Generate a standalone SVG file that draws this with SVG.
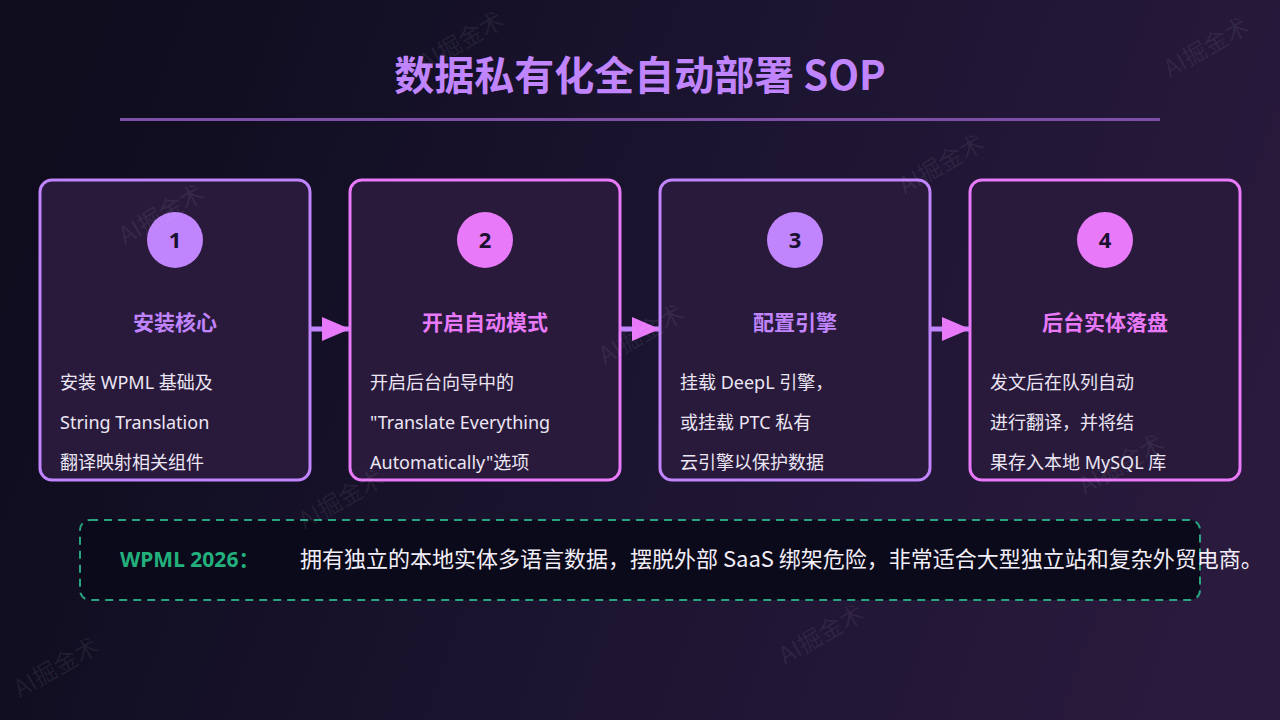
<svg xmlns="http://www.w3.org/2000/svg" width="1280" height="720" viewBox="0 0 1280 720">
<defs>
<linearGradient id="bg" x1="0" y1="0.4" x2="1" y2="0.6">
<stop offset="0" stop-color="#0e0c1d"/>
<stop offset="0.5" stop-color="#1b1430"/>
<stop offset="1" stop-color="#2a1a3d"/>
</linearGradient>
<marker id="head" viewBox="0 0 28 24" refX="28" refY="12" markerWidth="28" markerHeight="24" markerUnits="userSpaceOnUse" orient="auto">
<path d="M0,0 L28,12 L0,24 Z" fill="#e879f9"/>
</marker>
<style>
.wm{font-family:"Noto Sans CJK SC","Noto Sans",sans-serif;font-size:24px;fill:#ffffff;fill-opacity:0.07}
.card{fill:#291a3b;stroke-width:3}
.pur{stroke:#c084fc}
.pnk{stroke:#e879f9}
.num{font-family:"Noto Sans","Noto Sans CJK SC",sans-serif;font-weight:700;font-size:22px;fill:#1a1030;text-anchor:middle}
.ttl{font-family:"Noto Sans CJK SC","Noto Sans",sans-serif;font-weight:700;font-size:21px;text-anchor:middle}
.body{font-family:"Noto Sans","Noto Sans CJK SC",sans-serif;font-size:18px;fill:#ece6f5}
.conn{stroke:#c084fc;stroke-width:5;fill:none}
</style>
</defs>
<rect width="1280" height="720" fill="url(#bg)"/>
<g id="title">
<text x="640" y="90" text-anchor="middle" font-family="Noto Sans CJK SC, Noto Sans, sans-serif" font-weight="700" font-size="40" fill="#c084fc">数据私有化全自动部署 SOP</text>
<rect x="120" y="118" width="1040" height="3" fill="#7d4fa6"/>
</g>
<g id="connectors">
<line class="conn" x1="311" y1="329" x2="350" y2="329" marker-end="url(#head)"/>
<line class="conn" x1="621" y1="329" x2="660" y2="329" marker-end="url(#head)"/>
<line class="conn" x1="931" y1="329" x2="970" y2="329" marker-end="url(#head)"/>
</g>
<g id="step1">
<rect class="card pur" x="40" y="180" width="270" height="300" rx="12"/>
<circle cx="175" cy="240" r="28" fill="#c084fc"/>
<text class="num" x="175" y="248">1</text>
<text class="ttl" x="175" y="330" fill="#c084fc">安装核心</text>
<text class="body" x="60" y="389">安装 WPML 基础及</text>
<text class="body" x="60" y="429">String Translation</text>
<text class="body" x="60" y="469">翻译映射相关组件</text>
</g>
<g id="step2">
<rect class="card pnk" x="350" y="180" width="270" height="300" rx="12"/>
<circle cx="485" cy="240" r="28" fill="#e879f9"/>
<text class="num" x="485" y="248">2</text>
<text class="ttl" x="485" y="330" fill="#e879f9">开启自动模式</text>
<text class="body" x="370" y="389">开启后台向导中的</text>
<text class="body" x="370" y="429">"Translate Everything</text>
<text class="body" x="370" y="469">Automatically"选项</text>
</g>
<g id="step3">
<rect class="card pur" x="660" y="180" width="270" height="300" rx="12"/>
<circle cx="795" cy="240" r="28" fill="#c084fc"/>
<text class="num" x="795" y="248">3</text>
<text class="ttl" x="795" y="330" fill="#c084fc">配置引擎</text>
<text class="body" x="680" y="389">挂载 DeepL 引擎，</text>
<text class="body" x="680" y="429">或挂载 PTC 私有</text>
<text class="body" x="680" y="469">云引擎以保护数据</text>
</g>
<g id="step4">
<rect class="card pnk" x="970" y="180" width="270" height="300" rx="12"/>
<circle cx="1105" cy="240" r="28" fill="#e879f9"/>
<text class="num" x="1105" y="248">4</text>
<text class="ttl" x="1105" y="330" fill="#e879f9">后台实体落盘</text>
<text class="body" x="990" y="389">发文后在队列自动</text>
<text class="body" x="990" y="429">进行翻译，并将结</text>
<text class="body" x="990" y="469">果存入本地 MySQL 库</text>
</g>
<g id="note">
<rect x="80" y="520" width="1120" height="80" rx="10" fill="#0b0a1a" stroke="#2aa37f" stroke-width="2" stroke-dasharray="8,6"/>
<text x="120" y="567" font-family="Noto Sans, Noto Sans CJK SC, sans-serif" font-weight="700" font-size="21" fill="#22b07d">WPML 2026：</text>
<text x="300" y="567" font-family="Noto Sans CJK SC, Noto Sans, sans-serif" font-size="22" fill="#f2eef8">拥有独立的本地实体多语言数据，摆脱外部 SaaS 绑架危险，非常适合大型独立站和复杂外贸电商。</text>
</g>
<g id="watermarks">
<text class="wm" transform="translate(125,245) rotate(-30)">AI掘金术</text>
<text class="wm" transform="translate(425,72) rotate(-30)">AI掘金术</text>
<text class="wm" transform="translate(905,195) rotate(-30)">AI掘金术</text>
<text class="wm" transform="translate(605,365) rotate(-30)">AI掘金术</text>
<text class="wm" transform="translate(305,530) rotate(-30)">AI掘金术</text>
<text class="wm" transform="translate(1085,495) rotate(-30)">AI掘金术</text>
<text class="wm" transform="translate(785,665) rotate(-30)">AI掘金术</text>
<text class="wm" transform="translate(20,698) rotate(-30)">AI掘金术</text>
<text class="wm" transform="translate(1170,78) rotate(-30)">AI掘金术</text>
</g>
</svg>
